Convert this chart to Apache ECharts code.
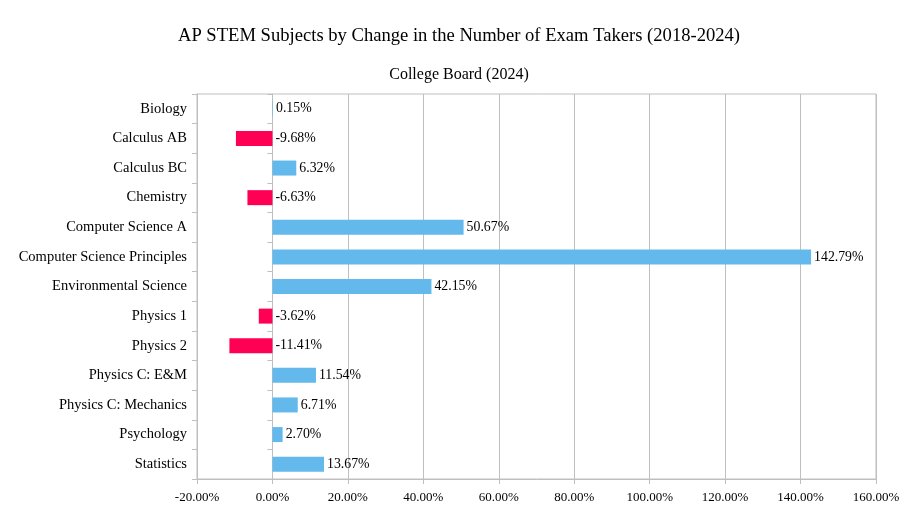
<!DOCTYPE html>
<html lang="en">
<head>
    <meta charset="UTF-8">
    <title>AP STEM Subjects</title>
    <script src="https://cdn.jsdelivr.net/npm/echarts@6/dist/echarts.min.js"></script>
    <style>
        html, body { margin: 0; padding: 0; background: #fff; }
        #chart { width: 918px; height: 515px; }
    </style>
</head>
<body>

<div id="chart"></div>

<script>

    // subjects, top to bottom
    var subjects = ['Biology', 'Calculus AB', 'Calculus BC', 'Chemistry', 'Computer Science A',
        'Computer Science Principles', 'Environmental Science', 'Physics 1', 'Physics 2',
        'Physics C: E&M', 'Physics C: Mechanics', 'Psychology', 'Statistics'];
    // change in exam takers 2018-2024, percent
    var change = [0.15, -9.68, 6.32, -6.63, 50.67, 142.79, 42.15, -3.62, -11.41, 11.54, 6.71, 2.70, 13.67];

    var font = 'Liberation Serif';
    var gray = '#BFBFBF';

    var myChart = echarts.init(document.getElementById('chart'));

    var barData = [];
    for (var i = 0; i < change.length; i++) {
        barData.push({
            value: change[i],
            itemStyle: { color: change[i] < 0 ? '#FF0055' : '#63B9EC' }
        });
    }

    var option = {
        animation: false,
        title: [
            {
                text: 'AP STEM Subjects by Change in the Number of Exam Takers (2018-2024)',
                left: 'center',
                top: 22,
                textStyle: { fontFamily: font, fontSize: 18.6, fontWeight: 'normal', color: '#000' }
            },
            {
                text: 'College Board (2024)',
                left: 'center',
                top: 62,
                textStyle: { fontFamily: font, fontSize: 16, fontWeight: 'normal', color: '#000' }
            }
        ],
        grid: {
            left: 197, right: 42, top: 94, bottom: 36,
            show: true, borderColor: gray, borderWidth: 1
        },
        xAxis: {
            type: 'value',
            min: -20, max: 160, interval: 20,
            axisLine: { show: true, onZero: false, lineStyle: { color: gray } },
            axisTick: { show: true, length: 5, lineStyle: { color: gray } },
            splitLine: { show: true, lineStyle: { color: gray } },
            axisLabel: {
                fontFamily: font, fontSize: 13, color: '#000', margin: 12,
                formatter: function (v) { return v.toFixed(2) + '%'; }
            }
        },
        yAxis: [
            {
                type: 'category',
                data: subjects,
                inverse: true,
                axisLine: { show: true, onZero: false, lineStyle: { color: gray } },
                axisTick: { show: true, length: 5, lineStyle: { color: gray } },
                axisLabel: { fontFamily: font, fontSize: 14.5, color: '#000', margin: 10, padding: [7, 0, 0, 0] }
            },
            {
                type: 'category',
                data: subjects,
                inverse: true,
                position: 'left',
                axisLine: { show: true, onZero: true, lineStyle: { color: gray } },
                axisTick: { show: true, length: 5, lineStyle: { color: gray } },
                axisLabel: { show: false }
            }
        ],
        series: [
            {
                name: 'Change',
                type: 'bar',
                yAxisIndex: 0,
                barWidth: 15,
                data: barData,
                label: {
                    show: true,
                    position: 'right',
                    distance: 3,
                    padding: [3, 0, 0, 0],
                    fontFamily: font, fontSize: 13.8, color: '#000',
                    formatter: function (p) { return p.value.toFixed(2) + '%'; }
                }
            }
        ]
    };
    myChart.setOption(option);

</script>

</body>
</html>
